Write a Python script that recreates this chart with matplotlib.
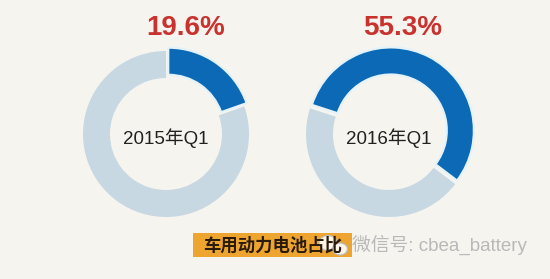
import numpy as np
import matplotlib.pyplot as plt
from matplotlib.patches import Rectangle, Ellipse

plt.rcParams['font.family'] = ['Liberation Sans', 'Noto Sans CJK SC', 'DejaVu Sans']

# data
periods = ['2015年Q1', '2016年Q1']
share = [19.6, 55.3]          # 车用动力电池占比 (%)
start_angles = [90, 162]

bg = '#f6f4ee'
blue = '#0b69b5'
grey = '#c7d8e3'
red = '#c8322f'

fig = plt.figure(figsize=(5.5, 2.79), dpi=100, facecolor=bg)
ax = fig.add_axes([0, 0, 1, 1])
ax.set_facecolor(bg)

centers = [(166, 145), (389, 145)]
R = 83
for (cx, cy), p, lab, sa in zip(centers, share, periods, start_angles):
    # explode is in data units here (pixels)
    wedges, _ = ax.pie([p, 100 - p], colors=[blue, grey], startangle=sa,
                       counterclock=False, radius=R, center=(cx, cy),
                       explode=[4, 0], wedgeprops=dict(width=27, linewidth=0),
                       frame=True)
    wedges[0].set_edgecolor('#e4f2fa')
    wedges[0].set_linewidth(1.5)
    ax.text(cx, cy - 4, lab, ha='center', va='center', fontsize=13.5, color='#222222')

ax.set_xlim(0, 550)
ax.set_ylim(0, 279)
ax.set_aspect('equal')
ax.axis('off')

# percentage labels
ax.text(186, 251, f'{share[0]}%', ha='center', va='center', fontsize=20,
        color=red, fontweight='bold')
ax.text(403, 251, f'{share[1]}%', ha='center', va='center', fontsize=20,
        color=red, fontweight='bold')

# title box
ax.add_patch(Rectangle((193, 22), 159, 24, facecolor='#eea52f', edgecolor='none'))
ax.text(203, 34, '车用动力电池占比', ha='left', va='center', fontsize=12.5,
        fontweight='bold', color='#2a1a0a')

# watermark
ax.add_patch(Ellipse((328, 36), 18, 15, facecolor='white', edgecolor='#bbbbbb', lw=1, alpha=0.9))
ax.add_patch(Ellipse((340, 30), 15, 12, facecolor='white', edgecolor='#bbbbbb', lw=1, alpha=0.9))
ax.text(352, 34, '微信号: cbea_battery', ha='left', va='center', fontsize=13.5,
        color='#b9b9b9')

fig.savefig('out.png', dpi=100, facecolor=bg)
